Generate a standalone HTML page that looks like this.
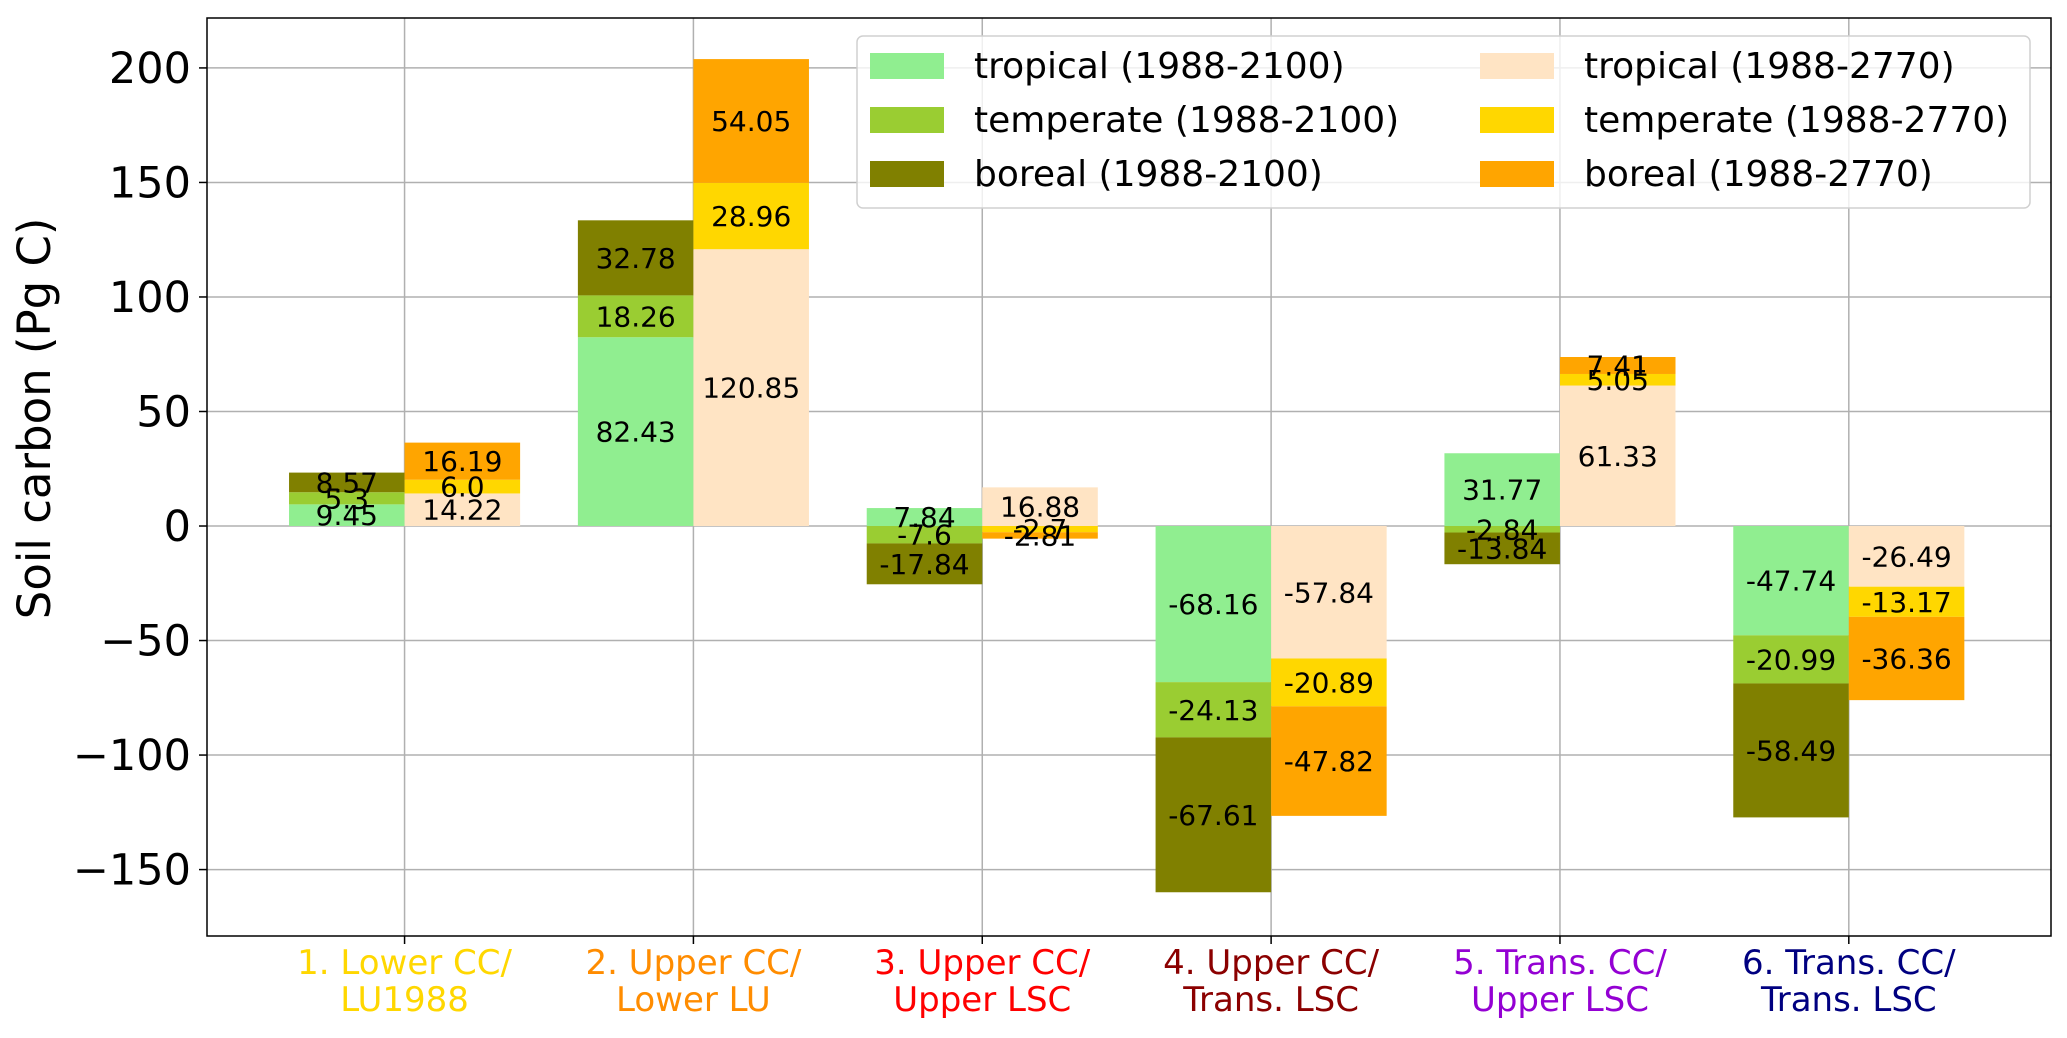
<!DOCTYPE html>
<html><head><meta charset="utf-8"><style>
html,body{margin:0;padding:0;background:#fff;}
svg{display:block;font-family:"DejaVu Sans","Liberation Sans",sans-serif;}
</style></head><body>
<svg id="chart" width="2067" height="1038" viewBox="0 0 2067 1038" xmlns="http://www.w3.org/2000/svg">
<g id="grid"></g><g id="bars"></g><g id="labels"></g><g id="axes"></g><g id="legend"></g>
</svg>
<script>
const categories = ["1. Lower CC/|LU1988","2. Upper CC/|Lower LU","3. Upper CC/|Upper LSC","4. Upper CC/|Trans. LSC","5. Trans. CC/|Upper LSC","6. Trans. CC/|Trans. LSC"];
const catColors = ["#ffd700","#ff8c00","#ff0000","#8b0000","#9400d3","#000080"];
const tropical2100 = [9.45, 82.43, 7.84, -68.16, 31.77, -47.74];
const temperate2100 = [5.3, 18.26, -7.6, -24.13, -2.84, -20.99];
const boreal2100 = [8.57, 32.78, -17.84, -67.61, -13.84, -58.49];
const tropical2770 = [14.22, 120.85, 16.88, -57.84, 61.33, -26.49];
const temperate2770 = [6.0, 28.96, -2.7, -20.89, 5.05, -13.17];
const boreal2770 = [16.19, 54.05, -2.81, -47.82, 7.41, -36.36];
const yTicks = [-150,-100,-50,0,50,100,150,200];
const yTickLabels = ["\u2212150","\u2212100","\u221250","0","50","100","150","200"];

const L=207,R=2051,T=18,B=936;
const yMin=-179, yMax=221.8, xMin=-0.684, xMax=5.70;
const y=v=>B-(v-yMin)/(yMax-yMin)*(B-T);
const x=v=>L+(v-xMin)/(xMax-xMin)*(R-L);
const bw=0.4;
const NS="http://www.w3.org/2000/svg";
function mk(tag,attrs,parent,text){const e=document.createElementNS(NS,tag);for(const k in attrs)e.setAttribute(k,attrs[k]);if(text!==undefined)e.textContent=text;parent.appendChild(e);return e;}
const grid=document.getElementById('grid'),bars=document.getElementById('bars'),labels=document.getElementById('labels'),axes=document.getElementById('axes'),legend=document.getElementById('legend');
const fmt=v=>Number.isInteger(v)?v.toFixed(1):String(v);

yTicks.forEach((t,i)=>{
  const g=mk('line',{x1:L,x2:R,y1:y(t),y2:y(t),stroke:'#b0b0b0','stroke-width':1.5},grid);
  
  
  mk('line',{x1:L-8,x2:L,y1:y(t),y2:y(t),stroke:'#000','stroke-width':1.5},axes);
  const tl=mk('text',{x:L-16,y:y(t)+15,'text-anchor':'end','font-size':43},axes,yTickLabels[i]);
  
  
});
categories.forEach((c,i)=>{
  const g=mk('line',{x1:x(i),x2:x(i),y1:T,y2:B,stroke:'#b0b0b0','stroke-width':1.5},grid);
  
  
  mk('line',{x1:x(i),x2:x(i),y1:B,y2:B+8,stroke:'#000','stroke-width':1.5},axes);
  const parts=c.split('|');
  parts.forEach((p,j)=>{
    const tl=mk('text',{x:x(i),y:974+j*37,'text-anchor':'middle','font-size':34,fill:catColors[i]},axes,p);
    
    
  });
});

function drawStack(series,colors,offset,name){
  for(let i=0;i<categories.length;i++){
    let pos=0,neg=0;
    series.forEach((s,k)=>{
      const v=s[i];let b0;
      if(v>=0){b0=pos;pos+=v;}else{b0=neg;neg+=v;}
      const top=Math.max(b0,b0+v),bot=Math.min(b0,b0+v);
      const r=mk('rect',{x:x(i+offset-bw/2),y:y(top),width:x(bw)-x(0),height:y(bot)-y(top),fill:colors[k]},bars);
      
      
      const t=mk('text',{x:x(i+offset),y:y(b0+v/2)+10,'text-anchor':'middle','font-size':28,fill:'#000'},labels,fmt(v));
      
      
    });
  }
}
drawStack([tropical2100,temperate2100,boreal2100],["#90ee90","#9acd32","#808000"],-0.2,'y2100');
drawStack([tropical2770,temperate2770,boreal2770],["#ffe4c4","#ffd700","#ffa500"],0.2,'y2770');

const fr=mk('rect',{x:L,y:T,width:R-L,height:B-T,fill:'none',stroke:'#000','stroke-width':1.5},axes);


const yl=mk('text',{x:0,y:0,'text-anchor':'middle','font-size':45,transform:'translate(50,'+y(47)+') rotate(-90)'},axes,'Soil carbon (Pg C)');



const lb=mk('rect',{x:857,y:36,width:1173,height:172,rx:6,fill:'#fff','fill-opacity':0.8,stroke:'#d0d0d0','stroke-width':1.5},legend);


const legNames=["tropical (1988-2100)","temperate (1988-2100)","boreal (1988-2100)","tropical (1988-2770)","temperate (1988-2770)","boreal (1988-2770)"];
const legColors=["#90ee90","#9acd32","#808000","#ffe4c4","#ffd700","#ffa500"];
legNames.forEach((n,k)=>{
  const col=Math.floor(k/3),row=k%3;
  const px=col?1480:870,ry=53+row*54;
  const p=mk('rect',{x:px,y:ry,width:74,height:26,fill:legColors[k]},legend);
  
  
  const t=mk('text',{x:px+104,y:ry+25,'font-size':36},legend,n);
  
  
});
</script>
</body></html>
